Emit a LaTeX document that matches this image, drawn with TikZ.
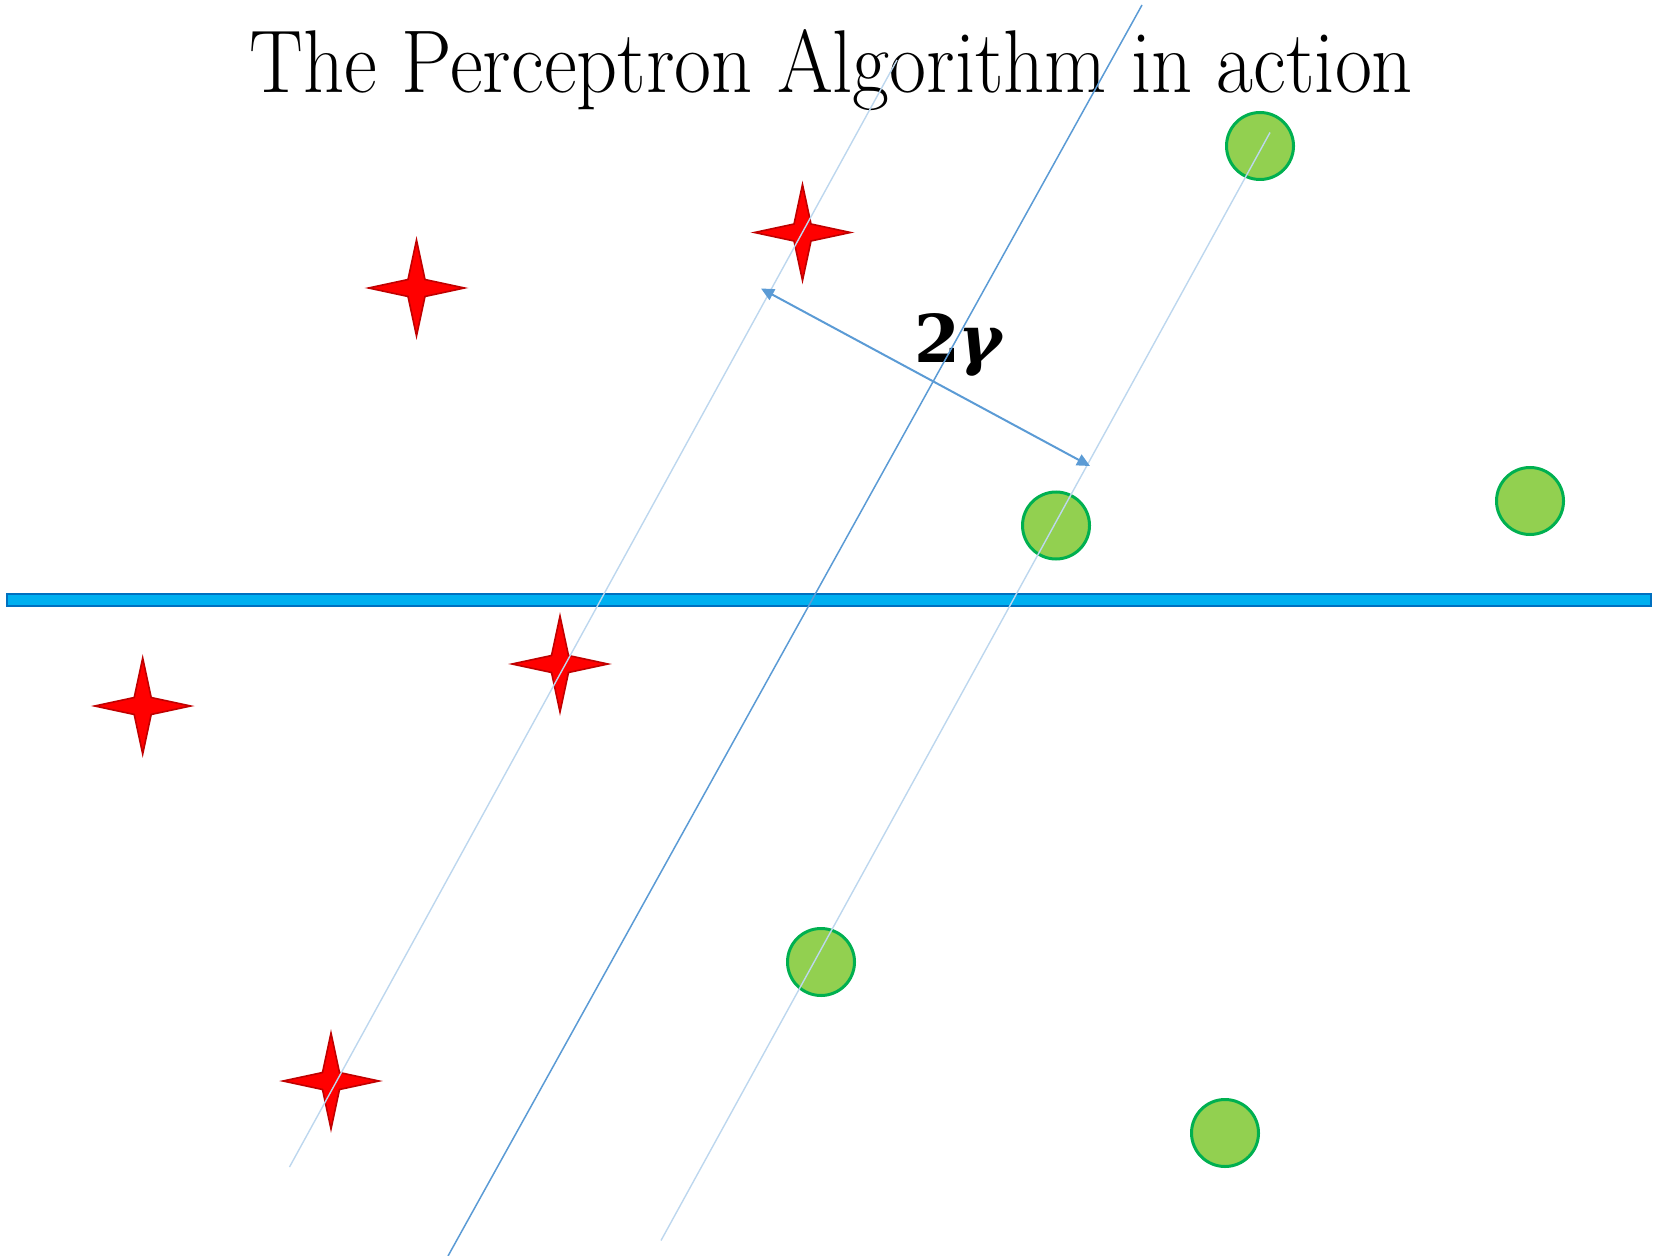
\RequirePackage{fix-cm}
\documentclass[tikz,border=0pt]{standalone}
\usepackage{fontspec}
\newfontfamily\gamfont{DejaVu Serif}
\usetikzlibrary{shapes.geometric,arrows.meta}
\definecolor{barfill}{HTML}{00B0F0}
\definecolor{bardraw}{HTML}{0070C0}
\definecolor{linemid}{HTML}{5B9BD5}
\definecolor{linelight}{HTML}{BDD7EE}
\definecolor{dotfill}{HTML}{92D050}
\definecolor{dotdraw}{HTML}{00B050}
\definecolor{stardraw}{HTML}{C00000}
\begin{document}
\begin{tikzpicture}[x=0.5pt,y=-0.5pt,
  redstar/.style={star, star points=4, star point ratio=4.0, minimum size=48pt, inner sep=0pt,
                  fill=red, draw=stardraw, line width=0.8pt},
  greendot/.style={circle, minimum size=33.5pt, inner sep=0pt, fill=dotfill, draw=dotdraw, line width=1.5pt},
  midline/.style={draw=linemid, line width=0.75pt},
  lightline/.style={draw=linelight, line width=0.7pt},
  gaparrow/.style={draw=linemid, line width=1pt, {Triangle[length=6.5pt,width=6pt]}-{Triangle[length=6.5pt,width=6pt]}}
]
\useasboundingbox (0,0) rectangle (1657,1256);
% separating bar
\path[fill=barfill, draw=bardraw, line width=1pt] (7,593.5) rectangle (1650.5,605.5);
% stars
\node[redstar] (s1) at (416.5,288) {};
\node[redstar] (s2) at (802.5,232.5) {};
\node[redstar] (s3) at (560,664) {};
\node[redstar] (s4) at (142.7,706) {};
\node[redstar] (s5) at (331,1081) {};
% circles
\node[greendot] (c1) at (1260,146) {};
\node[greendot] (c2) at (1056,525.5) {};
\node[greendot] (c3) at (1530,501) {};
\node[greendot] (c4) at (821,962) {};
\node[greendot] (c5) at (1225,1133) {};
% title
\node[anchor=base, inner sep=0pt] (title) at (831.5,93)
  {\resizebox{581.5pt}{31.5pt}{\fontsize{44.7pt}{50pt}\selectfont The Perceptron Algorithm in action}};
% margin label
\node[anchor=base west, inner sep=0pt] (gam) at (914,363)
  {\gamfont\fontsize{33pt}{36pt}\selectfont\bfseries 2\kern-1pt{\itshape γ}};
% lines
\coordinate (m1) at (1142,5);
\coordinate (m2) at (448,1256);
\coordinate (l1) at (897,60);
\coordinate (l2) at (289.5,1167);
\coordinate (r1) at (1270,132.5);
\coordinate (r2) at (661,1240.5);
\draw[midline] (m1) -- (m2);
\draw[lightline] (l1) -- (l2);
\draw[lightline] (r1) -- (r2);
% margin arrow
\coordinate (a1) at (761,288.5);
\coordinate (a2) at (1090,466);
\draw[gaparrow] (a1) -- (a2);
\end{tikzpicture}
\end{document}
